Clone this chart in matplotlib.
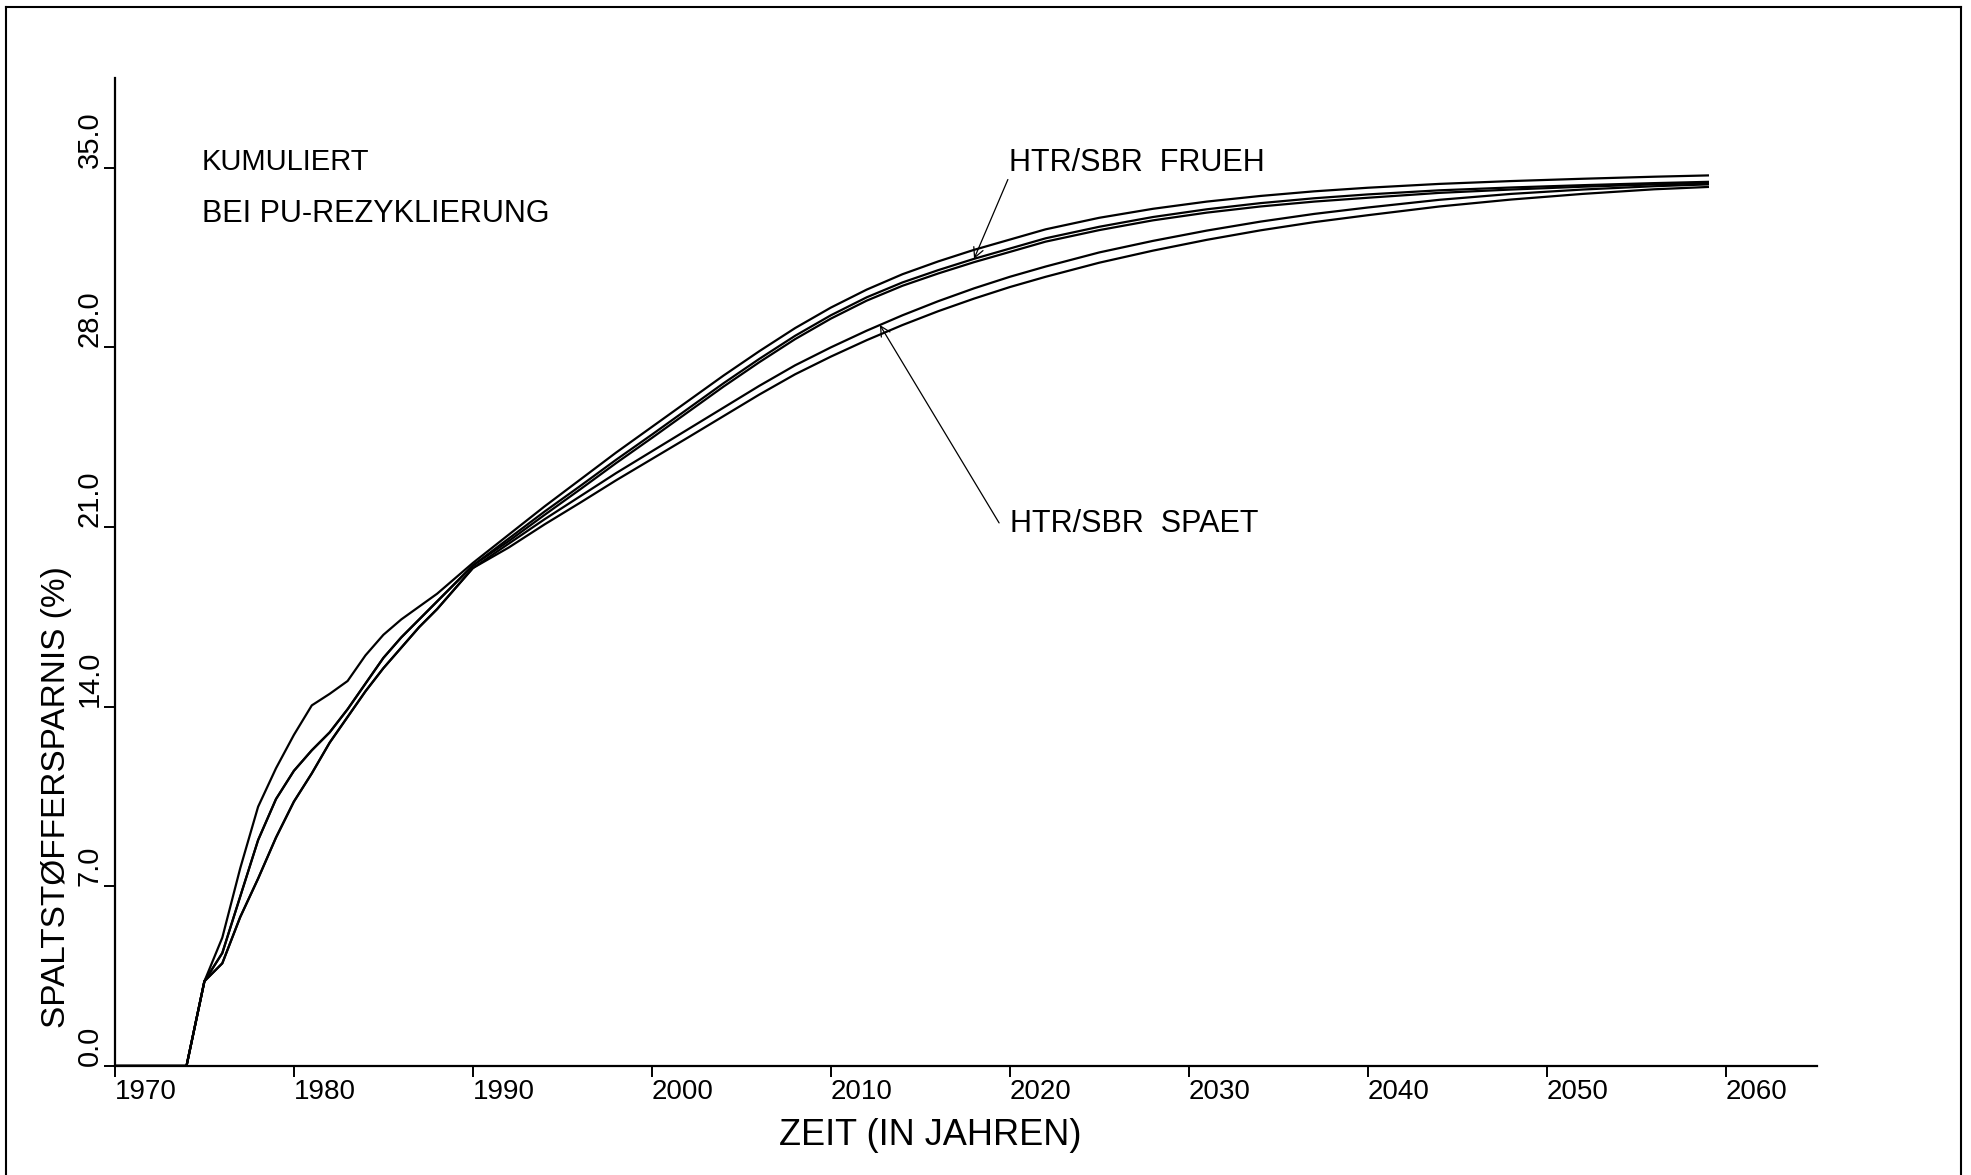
import numpy as np
import matplotlib
matplotlib.use("Agg")
import matplotlib.pyplot as plt
from matplotlib.lines import Line2D

plt.rcParams['font.family'] = ['Liberation Sans', 'DejaVu Sans']

# Cumulative fissile material savings (%) per year
years = [1970, 1973, 1974, 1975, 1976, 1977, 1978, 1979, 1980, 1981, 1982,
         1983, 1984, 1985, 1986, 1987, 1988, 1989, 1990,
         1992, 1994, 1996, 1998, 2000, 2002, 2004, 2006, 2008, 2010, 2012,
         2014, 2016, 2018, 2020, 2022, 2025, 2028, 2031, 2034, 2037, 2040,
         2044, 2048, 2052, 2056, 2059]

frueh_1 = [0, 0, 0, 3.3, 5.0, 7.7, 10.1, 11.6, 12.9, 14.05, 14.5,
           15.0, 16.0, 16.8, 17.4, 17.9, 18.4, 19.0, 19.6,
           20.7, 21.8, 22.85, 23.9, 24.9, 25.9, 26.9, 27.85, 28.75, 29.55, 30.25,
           30.85, 31.35, 31.8, 32.2, 32.6, 33.05, 33.4, 33.68, 33.9, 34.08, 34.22,
           34.37, 34.48, 34.57, 34.65, 34.7]
frueh_2 = [0, 0, 0, 3.3, 4.4, 6.6, 8.8, 10.4, 11.5, 12.3, 13.0,
           13.9, 14.9, 15.9, 16.7, 17.4, 18.1, 18.8, 19.5,
           20.55, 21.6, 22.6, 23.62, 24.6, 25.6, 26.6, 27.55, 28.45, 29.25, 29.95,
           30.53, 31.01, 31.45, 31.85, 32.25, 32.7, 33.08, 33.38, 33.62, 33.81, 33.96,
           34.12, 34.23, 34.32, 34.4, 34.45]
frueh_3 = [0, 0, 0, 3.3, 4.4, 6.6, 8.8, 10.4, 11.5, 12.3, 13.0,
           13.9, 14.9, 15.9, 16.7, 17.4, 18.1, 18.8, 19.5,
           20.45, 21.47, 22.47, 23.49, 24.47, 25.47, 26.47, 27.42, 28.32, 29.12, 29.82,
           30.4, 30.88, 31.32, 31.72, 32.12, 32.57, 32.95, 33.25, 33.49, 33.68, 33.83,
           34.02, 34.15, 34.26, 34.35, 34.4]
spaet_1 = [0, 0, 0, 3.3, 4.0, 5.8, 7.3, 8.9, 10.3, 11.4, 12.6,
           13.6, 14.6, 15.5, 16.3, 17.1, 17.8, 18.6, 19.4,
           20.35, 21.3, 22.2, 23.1, 23.95, 24.8, 25.65, 26.5, 27.3, 28.0, 28.65,
           29.25, 29.8, 30.3, 30.75, 31.15, 31.7, 32.15, 32.55, 32.9, 33.2, 33.45,
           33.75, 33.98, 34.15, 34.28, 34.35]
spaet_2 = [0, 0, 0, 3.3, 4.0, 5.8, 7.3, 8.9, 10.3, 11.4, 12.6,
           13.6, 14.6, 15.5, 16.3, 17.1, 17.8, 18.6, 19.4,
           20.2, 21.1, 21.95, 22.82, 23.65, 24.48, 25.32, 26.16, 26.95, 27.64, 28.28,
           28.87, 29.41, 29.9, 30.35, 30.75, 31.3, 31.77, 32.19, 32.56, 32.88, 33.15,
           33.49, 33.76, 33.98, 34.16, 34.25]

x_ticks = [1970, 1980, 1990, 2000, 2010, 2020, 2030, 2040, 2050, 2060]
x_tick_labels = ['1970', '1980', '1990', '2000', '2010', '2020', '2030',
                 '2040', '2050', '2060']
y_ticks = [0, 7, 14, 21, 28, 35]
y_tick_labels = ['0.0', '7.0', '14.0', '21.0', '28.0', '35.0']

fig = plt.figure(figsize=(19.71, 11.75), dpi=100)
ax = fig.add_axes([0.0583, 0.0928, 0.8636, 0.8409])

for series in (frueh_1, frueh_2, frueh_3, spaet_1, spaet_2):
    ax.plot(years, series, color='black', lw=1.6, solid_joinstyle='round')

ax.set_xlim(1970, 2065.1)
ax.set_ylim(0, 38.5)

for side in ('top', 'right'):
    ax.spines[side].set_visible(False)
for side in ('left', 'bottom'):
    ax.spines[side].set_linewidth(1.6)

ax.tick_params(axis='x', direction='out', length=8, width=1.4, pad=1.5,
               labelsize=20)
ax.tick_params(axis='y', direction='out', length=8, width=1.4, pad=0,
               labelsize=21)
ax.set_xticks(x_ticks, x_tick_labels, ha='left')
ax.set_yticks(y_ticks, y_tick_labels, rotation=90, va='bottom')

ax.set_xlabel('ZEIT (IN JAHREN)', fontsize=26)
ax.xaxis.set_label_coords(0.3904, -0.080)
ax.xaxis.label.set_ha('left')
ax.xaxis.label.set_va('baseline')

ax.set_ylabel('SPALTSTØFFERSPARNIS (%)', fontsize=24)
ax.yaxis.set_label_coords(-0.0294, 0.0385)
ax.yaxis.label.set_ha('left')
ax.yaxis.label.set_va('baseline')

# Notes in the upper left corner
ax.text(1974.85, 34.93, 'KUMULIERT', fontsize=21, ha='left', va='baseline')
ax.text(1974.85, 32.87, 'BEI PU-REZYKLIERUNG', fontsize=22, ha='left',
        va='baseline')

# Curve group labels with pointers
ax.text(2019.97, 34.87, 'HTR/SBR  FRUEH', fontsize=22, ha='left', va='baseline')
ax.text(2020.0, 20.8, 'HTR/SBR  SPAET', fontsize=22, ha='left', va='baseline')

arrow_kw = dict(arrowstyle='->,head_length=0.35,head_width=0.18',
                color='black', lw=0.9, shrinkA=0, shrinkB=0,
                mutation_scale=20)
frueh_tip = 2018.0
ax.annotate('', xy=(frueh_tip, np.interp(frueh_tip, years, frueh_2)),
            xytext=(2019.89, 34.54), arrowprops=arrow_kw)
spaet_tip = 2012.74
ax.annotate('', xy=(spaet_tip, np.interp(spaet_tip, years, spaet_1)),
            xytext=(2019.4, 21.16), arrowprops=arrow_kw)

# Page frame
W, H = 1971.0, 1175.0
frame_kw = dict(transform=fig.transFigure, color='black', lw=1.5)
fig.add_artist(Line2D([6 / W, 6 / W], [0, 1 - 7 / H], **frame_kw))
fig.add_artist(Line2D([6 / W, 1961 / W], [1 - 7 / H, 1 - 7 / H], **frame_kw))
fig.add_artist(Line2D([1961 / W, 1961 / W], [0, 1 - 7 / H], **frame_kw))

fig.savefig('out.png', dpi=100)
